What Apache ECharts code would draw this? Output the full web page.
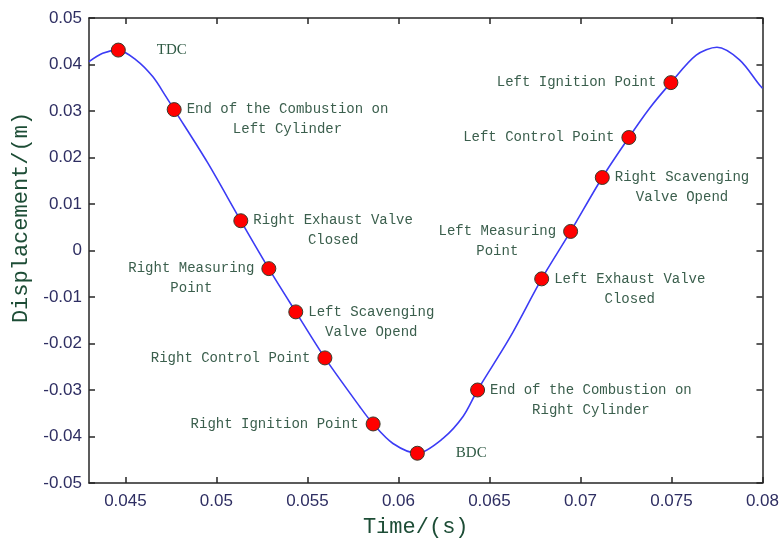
<!DOCTYPE html>
<html>
<head>
<meta charset="utf-8">
<script src="https://cdn.jsdelivr.net/npm/echarts@6/dist/echarts.min.js"></script>
<style>html,body{margin:0;padding:0;background:#fff}#c{width:782px;height:543px}</style>
</head>
<body>
<div id="c"></div>
<script>
// ---- data ----
var curveX = [0.0430, 0.04375, 0.04461, 0.04558, 0.04650, 0.04723, 0.04768, 0.0495, 0.05134, 0.05288, 0.05436, 0.05596, 0.05788, 0.05861, 0.0597, 0.06104, 0.06245, 0.06355, 0.06435, 0.06611, 0.06787, 0.06946, 0.0712, 0.07266, 0.0738, 0.07497, 0.07636, 0.0775, 0.07874, 0.07984, 0.0800];
var curveY = [0.0406, 0.0424, 0.0431, 0.0410, 0.0374, 0.0331, 0.0303, 0.0190, 0.0064, -0.0039, -0.0132, -0.0231, -0.0336, -0.0373, -0.0415, -0.0436, -0.0404, -0.0357, -0.0300, -0.0188, -0.0061, 0.0041, 0.0157, 0.0243, 0.0306, 0.0361, 0.0420, 0.0437, 0.0410, 0.0356, 0.0349];

var markX = [0.04461, 0.04768, 0.05134, 0.05288, 0.05436, 0.05596, 0.05861, 0.06104, 0.06435, 0.06787, 0.06946, 0.0712, 0.07266, 0.07497];
var markY = [0.0431, 0.0303, 0.0064, -0.0039, -0.0132, -0.0231, -0.0373, -0.0436, -0.0300, -0.0061, 0.0041, 0.0157, 0.0243, 0.0361];
var markLabels = [
  ['TDC'],
  ['End of the Combustion on', 'Left Cylinder'],
  ['Right Exhaust Valve', 'Closed'],
  ['Right Measuring', 'Point'],
  ['Left Scavenging', 'Valve Opend'],
  ['Right Control Point'],
  ['Right Ignition Point'],
  ['BDC'],
  ['End of the Combustion on', 'Right Cylinder'],
  ['Left Exhaust Valve', 'Closed'],
  ['Left Measuring', 'Point'],
  ['Right Scavenging', 'Valve Opend'],
  ['Left Control Point'],
  ['Left Ignition Point']
];
var labelSide = ['right', 'right', 'right', 'left', 'right', 'left', 'left', 'right', 'right', 'right', 'left', 'right', 'left', 'left'];

var xTicks = [0.045, 0.05, 0.055, 0.06, 0.065, 0.07, 0.075, 0.08];
var yTicks = [-0.05, -0.04, -0.03, -0.02, -0.01, 0, 0.01, 0.02, 0.03, 0.04, 0.05];

// ---- chart ----
var LABEL_FONT = 14, CHAR_W = 0.6 * LABEL_FONT, LINE_H = 20;
var labelColor = '#3b5f4d';

var curveData = curveX.map(function (x, i) { return [x, curveY[i]]; });
var markData = markX.map(function (x, i) {
  var lines = markLabels[i];
  var side = labelSide[i];
  var isShort = lines.length === 1 && lines[0].length <= 3;
  var maxLen = Math.max.apply(null, lines.map(function (s) { return s.length; }));
  var halfW = maxLen * CHAR_W / 2;
  var dy = (lines.length - 1) * LINE_H / 2;
  var label;
  if (isShort) {
    label = {
      show: true, position: side, distance: 31, align: side === 'right' ? 'left' : 'right',
      fontFamily: 'Liberation Serif', fontSize: 15, color: '#2f5a44'
    };
  } else {
    label = {
      show: true, position: side, distance: side === 'right' ? 5 : 7, align: 'center',
      offset: [side === 'right' ? halfW : -halfW, dy]
    };
  }
  return { value: [x, markY[i]], label: label, name: lines.join('\n') };
});

var tickLabelStyle = { color: '#2e2e62', fontSize: 17, fontFamily: 'Liberation Sans' };
var lineStyle = { color: '#262626', width: 1.5 };

var chart = echarts.init(document.getElementById('c'), null, { renderer: 'canvas' });
chart.setOption({
  backgroundColor: '#ffffff',
  animation: false,
  grid: { left: 89, right: 19, top: 18, bottom: 60 },
  xAxis: [{
    type: 'value', min: 0.043, max: 0.08, position: 'bottom',
    name: 'Time/(s)', nameLocation: 'middle', nameGap: 33,
    nameTextStyle: { fontFamily: 'Liberation Mono', fontSize: 22, color: '#1d4d36', padding: [0, 20, 0, 0] },
    axisLine: { show: true, onZero: false, lineStyle: lineStyle },
    axisTick: { show: true, inside: true, length: 6, customValues: xTicks, lineStyle: lineStyle },
    axisLabel: Object.assign({ customValues: xTicks, margin: 10, formatter: function (v) { return String(+v.toFixed(3)); } }, tickLabelStyle),
    splitLine: { show: false }
  }, {
    type: 'value', min: 0.043, max: 0.08, position: 'top',
    axisLine: { show: true, onZero: false, lineStyle: lineStyle },
    axisTick: { show: true, inside: true, length: 6, customValues: xTicks, lineStyle: lineStyle },
    axisLabel: { show: false },
    splitLine: { show: false }
  }],
  yAxis: [{
    type: 'value', min: -0.05, max: 0.05, position: 'left',
    name: 'Displacement/(m)', nameLocation: 'middle', nameGap: 57,
    nameTextStyle: { fontFamily: 'Liberation Mono', fontSize: 22, color: '#1d4d36', padding: [0, 0, 0, 66] },
    axisLine: { show: true, onZero: false, lineStyle: lineStyle },
    axisTick: { show: true, inside: true, length: 6, customValues: yTicks, lineStyle: lineStyle },
    axisLabel: Object.assign({ customValues: yTicks, margin: 7, formatter: function (v) { return String(+v.toFixed(2)); } }, tickLabelStyle),
    splitLine: { show: false }
  }, {
    type: 'value', min: -0.05, max: 0.05, position: 'right',
    axisLine: { show: true, onZero: false, lineStyle: lineStyle },
    axisTick: { show: true, inside: true, length: 6, customValues: yTicks, lineStyle: lineStyle },
    axisLabel: { show: false },
    splitLine: { show: false }
  }],
  series: [{
    type: 'line', data: curveData, smooth: 0.3, showSymbol: false,
    lineStyle: { color: '#3c3cf5', width: 1.6 }, z: 2
  }, {
    type: 'scatter', data: markData, symbol: 'circle', symbolSize: 14,
    itemStyle: { color: '#ff0000', borderColor: '#3a3a2a', borderWidth: 1, opacity: 1 },
    label: {
      show: true, formatter: '{b}', fontFamily: 'Liberation Mono', fontSize: LABEL_FONT,
      lineHeight: LINE_H, color: labelColor
    },
    emphasis: { disabled: true },
    z: 3
  }]
});
</script>
</body>
</html>
